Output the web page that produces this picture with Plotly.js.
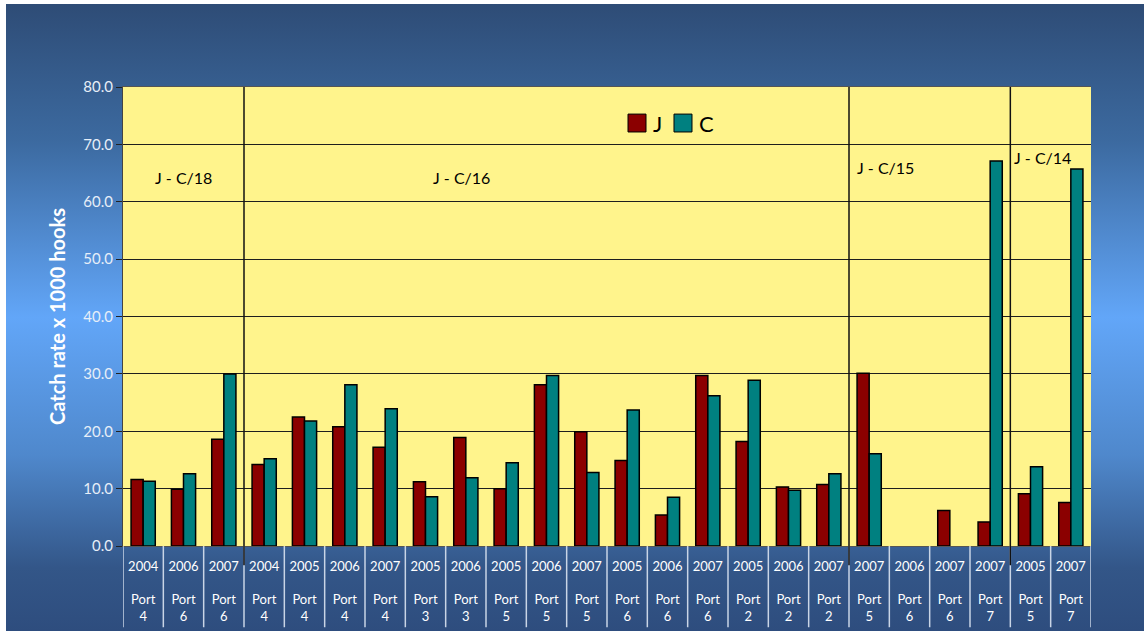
<!DOCTYPE html>
<html>
<head>
<meta charset="utf-8">
<script src="https://cdn.plot.ly/plotly-3.0.1.min.js"></script>
<style>
html,body{margin:0;padding:0;background:#ffffff;}
#bg{position:absolute;left:6px;top:4px;width:1138px;height:627px;
background:linear-gradient(to bottom,#2e4c76 0%,#3c6aa0 22%,#62a6f8 50%,#4f88cc 72%,#335688 90%,#2e4d7e 100%);}
#chart{position:absolute;left:0;top:0;width:1144px;height:631px;}
</style>
</head>
<body>
<div id="bg"></div>
<div id="chart"></div>
<script>
const years = ["2004","2006","2007","2004","2005","2006","2007","2005","2006","2005","2006","2007","2005","2006","2007","2005","2006","2007","2007","2006","2007","2007","2005","2007"];
const ports = ["4","6","6","4","4","4","4","3","3","5","5","5","6","6","6","2","2","2","5","6","6","7","5","7"];
const jValues = [11.6,9.9,18.6,14.2,22.5,20.8,17.2,11.2,18.9,10.0,28.1,19.9,14.9,5.4,29.7,18.2,10.3,10.7,30.1,null,6.2,4.2,9.1,7.6];
const cValues = [11.3,12.6,30.0,15.2,21.8,28.1,23.9,8.6,11.9,14.5,29.7,12.8,23.7,8.5,26.2,28.9,9.7,12.6,16.1,null,null,67.1,13.8,65.7];
const groupLabels = ["J - C/18","J - C/16","J - C/15","J - C/14"];
const groupLabelX = [1.0,7.9,18.4,22.3];
const groupLabelY = [64.2,64.2,66.0,67.8];
const dividers = [2.5,17.5,21.5];
const seriesNames = ["J","C"];
const seriesColors = ["#8b0000","#008080"];
const yTicks = [0,10,20,30,40,50,60,70,80];

const idx = years.map((_, i) => i);
const tickText = years.map((y, i) => y + "<br> <br>Port<br>" + ports[i]);

const font = "Lato, 'DejaVu Sans', sans-serif";

const traces = [
  {type:"bar", name:seriesNames[0], x:idx, y:jValues, marker:{color:seriesColors[0], line:{color:"#000", width:1.5}}, showlegend:false, hoverinfo:"y"},
  {type:"bar", name:seriesNames[1], x:idx, y:cValues, marker:{color:seriesColors[1], line:{color:"#000", width:1.5}}, showlegend:false, hoverinfo:"y"}
];

const shapes = [];
for (let i = 0; i <= years.length; i++) {
  shapes.push({type:"line", xref:"x", yref:"paper", x0:i-0.5, x1:i-0.5, y0:0, y1:-0.177, line:{color:"#c9d5e6", width:1.5}, layer:"above"});
}
dividers.forEach(d => shapes.push({type:"line", xref:"x", yref:"paper", x0:d, x1:d, y0:-0.042, y1:1, line:{color:"#111", width:1.5}}));
shapes.push({type:"rect", xref:"paper", yref:"paper", x0:0.5217, x1:0.5403, y0:0.902, y1:0.941, fillcolor:seriesColors[0], line:{color:"#000", width:1}});
shapes.push({type:"rect", xref:"paper", yref:"paper", x0:0.5692, x1:0.5878, y0:0.902, y1:0.941, fillcolor:seriesColors[1], line:{color:"#000", width:1}});

const annotations = groupLabels.map((t, i) => ({
  text:t, x:groupLabelX[i], y:groupLabelY[i], xref:"x", yref:"y", showarrow:false,
  font:{family:font, size:16, color:"#000"}
}));
annotations.push({text:seriesNames[0], xref:"paper", yref:"paper", x:0.5455, y:0.921, xanchor:"left", yanchor:"middle", showarrow:false, font:{family:font, size:22, color:"#000"}});
annotations.push({text:seriesNames[1], xref:"paper", yref:"paper", x:0.5930, y:0.921, xanchor:"left", yanchor:"middle", showarrow:false, font:{family:font, size:22, color:"#000"}});

const layout = {
  width:1144, height:631,
  margin:{l:123, r:53, t:87, b:85},
  paper_bgcolor:"rgba(0,0,0,0)",
  plot_bgcolor:"#fff48c",
  barmode:"group", bargap:0.4, bargroupgap:0,
  xaxis:{
    range:[-0.5, years.length-0.5], tickmode:"array", tickvals:idx, ticktext:tickText,
    showgrid:false, zeroline:false, showline:true, mirror:true, linecolor:"#555", linewidth:1,
    ticks:"outside", ticklen:8, tickcolor:"rgba(0,0,0,0)",
    tickfont:{family:font, size:13, color:"#ffffff"}
  },
  yaxis:{
    range:[0,80], tickmode:"array", tickvals:yTicks, ticktext:yTicks.map(v => v.toFixed(1)),
    showgrid:true, gridcolor:"#1e1e1e", gridwidth:1, zeroline:false,
    showline:true, linecolor:"#444", linewidth:1,
    ticks:"outside", ticklen:6, tickcolor:"#222",
    tickfont:{family:font, size:15, color:"#e6eef8"},
    title:{text:"Catch rate x 1000 hooks", font:{family:font, size:20, color:"#ffffff", weight:"bold"}, standoff:12}
  },
  shapes:shapes,
  annotations:annotations,
  showlegend:false
};

Plotly.newPlot("chart", traces, layout, {displayModeBar:false, staticPlot:true});
</script>
</body>
</html>
